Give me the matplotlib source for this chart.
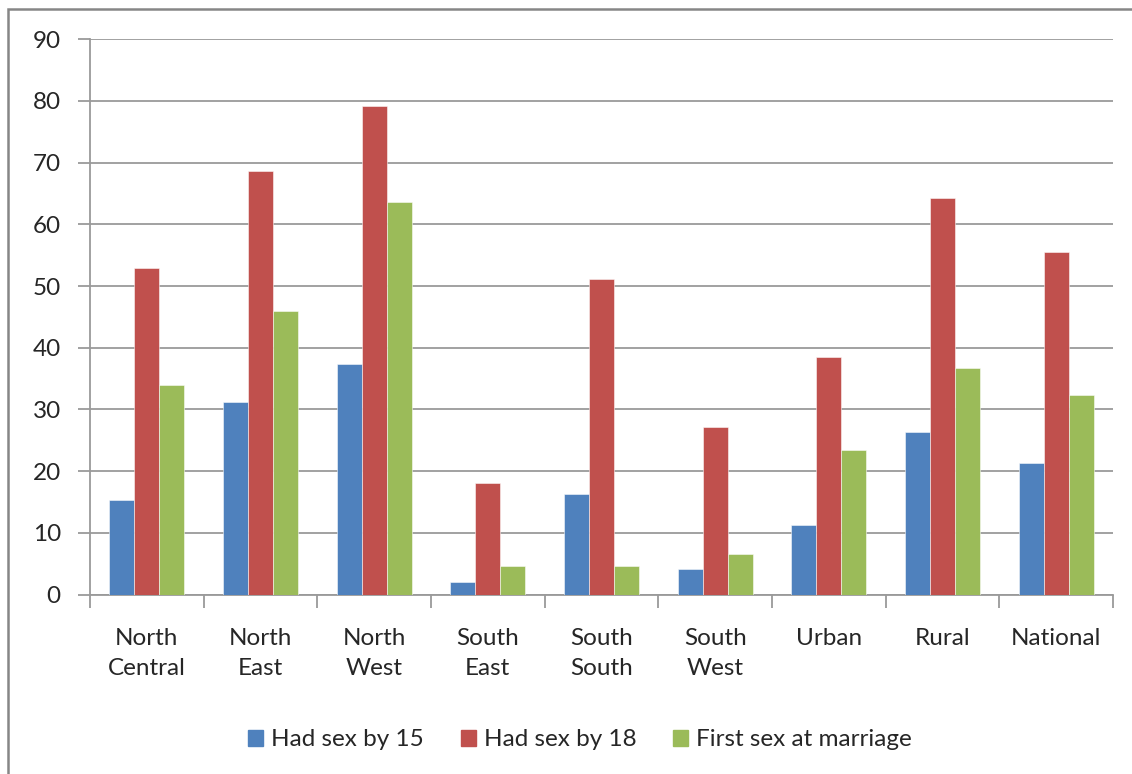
import matplotlib
matplotlib.use("Agg")
import matplotlib.pyplot as plt
import matplotlib.patches as mpatches
from matplotlib.ticker import MultipleLocator, FixedLocator
import numpy as np

categories = ["North\nCentral", "North\nEast", "North\nWest", "South\nEast",
              "South\nSouth", "South\nWest", "Urban", "Rural", "National"]
had_sex_by_15 = [15.3, 31.2, 37.3, 2.0, 16.3, 4.2, 11.3, 26.3, 21.3]
had_sex_by_18 = [53.0, 68.6, 79.2, 18.1, 51.2, 27.1, 38.5, 64.3, 55.6]
first_sex_at_marriage = [33.9, 45.9, 63.7, 4.6, 4.6, 6.5, 23.5, 36.7, 32.3]
series_names = ["Had sex by 15", "Had sex by 18", "First sex at marriage"]
colors = ["#4F81BD", "#C0504D", "#9BBB59"]

plt.rcParams['font.family'] = ['Lato', 'DejaVu Sans']

W, H = 1132, 774
fig = plt.figure(figsize=(W / 100, H / 100), dpi=100)
fig.patch.set_facecolor("white")

# outer chart border (left and top visible)
fig.add_artist(mpatches.Rectangle((8 / W, -0.05), 1.2, 1 - 9 / H + 0.05,
                                  transform=fig.transFigure, fill=False,
                                  edgecolor="#868686", linewidth=1.8))

left, right = 90 / W, 1113 / W
bottom, top = 1 - 594.5 / H, 1 - 39.3 / H
ax = fig.add_axes([left, bottom, right - left, top - bottom])

x = np.arange(len(categories))
bw = 0.22
series = [had_sex_by_15, had_sex_by_18, first_sex_at_marriage]
for i, (vals, name, c) in enumerate(zip(series, series_names, colors)):
    ax.bar(x + (i - 1) * bw, vals, width=bw, color=c, label=name,
           edgecolor=(1, 1, 1, 0.6), linewidth=0.6, zorder=3)

ax.set_xlim(-0.5, len(categories) - 0.5)
ax.set_ylim(0, 90)
ax.yaxis.set_major_locator(MultipleLocator(10))
ax.yaxis.grid(True, color="#9a9a9a", linewidth=1.3, zorder=0)
ax.set_axisbelow(True)

for s in ["top", "right"]:
    ax.spines[s].set_visible(False)
for s in ["left", "bottom"]:
    ax.spines[s].set_color("#9a9a9a")
    ax.spines[s].set_linewidth(1.3)

txt = "#262626"
ax.set_xticks(x)
ax.set_xticklabels(categories, fontsize=17.5, color=txt, linespacing=1.55)
ax.tick_params(axis="x", which="major", length=0, pad=24)
ax.xaxis.set_minor_locator(FixedLocator(np.arange(-0.5, len(categories), 1.0)))
ax.tick_params(axis="x", which="minor", length=9, width=1.3, color="#9a9a9a")
ax.tick_params(axis="y", length=9, width=1.3, color="#9a9a9a",
               labelsize=17.5, labelcolor=txt, pad=12)

handles = [mpatches.Patch(color=c) for c in colors]
fig.legend(handles, series_names, loc="center", bbox_to_anchor=(580 / W, 1 - 740 / H),
           ncol=3, frameon=False, fontsize=17.5, handlelength=0.62, handleheight=0.62,
           handletextpad=0.33, columnspacing=1.5, labelcolor=txt)

fig.savefig("out.png", dpi=100, facecolor="white")
